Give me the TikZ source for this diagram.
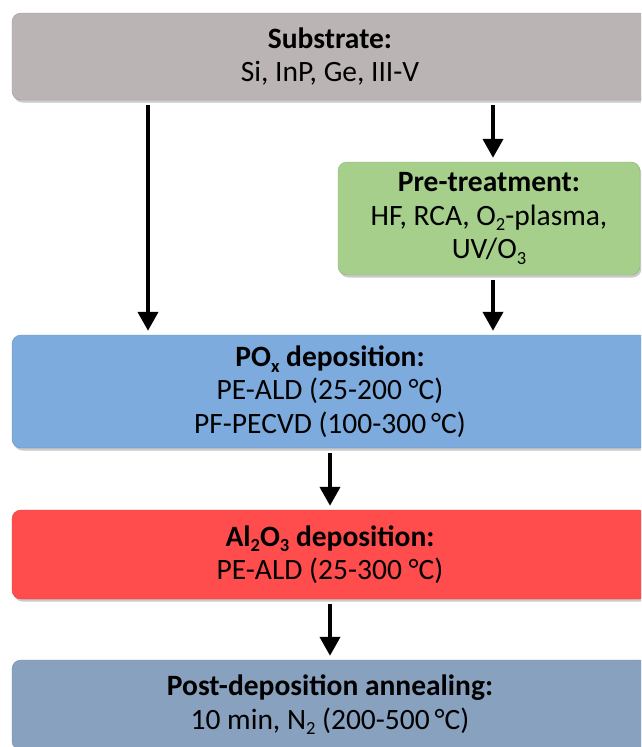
\documentclass[tikz,border=0pt]{standalone}
\usepackage{fontspec}
\setmainfont{Carlito}
\usetikzlibrary{arrows.meta,shadows}
\definecolor{cgray}{RGB}{187,180,180}
\definecolor{cgreen}{RGB}{166,207,140}
\definecolor{cblue}{RGB}{126,171,221}
\definecolor{cred}{RGB}{255,76,76}
\definecolor{cpost}{RGB}{135,161,190}
\newcommand{\sbs}[1]{\raisebox{-0.4ex}{\fontsize{18.5}{18.5}\selectfont #1}}
\tikzset{
  procbox/.style={rounded corners=9pt, inner sep=0pt, align=center,
    font=\fontsize{29.5}{33.5}\selectfont,
    drop shadow={shadow xshift=1.5pt, shadow yshift=-2.5pt, opacity=0.35, fill=black!60}},
  arr/.style={line width=4pt, -{Triangle[width=20pt,length=19pt]}, shorten <=5pt, shorten >=4pt}
}
\begin{document}
\begin{tikzpicture}[x=1pt,y=-1pt]
\useasboundingbox (0,0) rectangle (641,747);
\clip (0,0) rectangle (641,747);
\node[procbox, fill=cgray, draw=cgray!85!black, minimum width=636pt, minimum height=87pt] (sub) at (330,56.5)
  {\textbf{Substrate:}\\Si, InP, Ge, III-V};
\node[procbox, fill=cgreen, draw=cgreen!85!black, minimum width=302pt, minimum height=113pt] (pre) at (489,218.5)
  {\textbf{Pre-treatment:}\\HF, RCA, O\sbs{2}-plasma,\\UV/O\sbs{3}};
\node[procbox, fill=cblue, draw=cblue!85!black, minimum width=636pt, minimum height=113pt] (pox) at (330,391.5)
  {\textbf{PO\sbs{x} deposition:}\\PE-ALD (25-200 °C)\\PF-PECVD (100-300\,°C)};
\node[procbox, fill=cred, draw=cred!85!black, minimum width=636pt, minimum height=89pt] (al) at (330,554.5)
  {\textbf{Al\sbs{2}O\sbs{3} deposition:}\\PE-ALD (25-300 °C)};
\node[procbox, fill=cpost, draw=cpost!85!black, minimum width=636pt, minimum height=90pt] (pda) at (330,705)
  {\textbf{Post-deposition annealing:}\\10 min, N\sbs{2} (200-500\,°C)};
\coordinate (lx) at (148,0);
\coordinate (rx) at (493,0);
\draw[arr] (sub.south -| lx) -- (pox.north -| lx);
\draw[arr] (sub.south -| rx) -- (pre.north -| rx);
\draw[arr] (pre.south -| rx) -- (pox.north -| rx);
\draw[arr] (pox.south) -- (al.north);
\draw[arr] (al.south) -- (pda.north);
\end{tikzpicture}
\end{document}
